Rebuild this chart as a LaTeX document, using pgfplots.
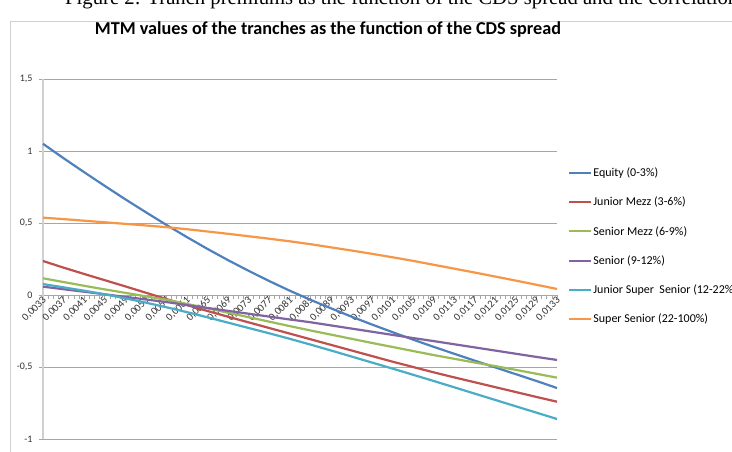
\documentclass[border=0pt]{standalone}
\usepackage{pgfplots}
\usepackage{pgfplotstable}
\pgfplotsset{compat=1.18}
\usepackage{fontspec}
\setmainfont{Carlito}
\newfontfamily\timesfont{Liberation Serif}
\definecolor{cEq}{HTML}{4F81BD}
\definecolor{cJM}{HTML}{C0504D}
\definecolor{cSM}{HTML}{9BBB59}
\definecolor{cS}{HTML}{8064A2}
\definecolor{cJSS}{HTML}{4BACC6}
\definecolor{cSS}{HTML}{F79646}
\definecolor{gridc}{HTML}{A6A6A6}
\definecolor{framec}{HTML}{D0D0D0}
\pgfplotstableread{
idx blue red green purple cyan orange
0 1.050 0.236 0.116 0.058 0.076 0.537
4 0.950 0.190 0.090 0.040 0.053 0.527
8 0.853 0.146 0.064 0.023 0.030 0.516
12 0.758 0.103 0.039 0.005 0.005 0.505
16 0.665 0.060 0.015 -0.013 -0.023 0.494
20 0.575 0.016 -0.009 -0.031 -0.053 0.483
24 0.487 -0.028 -0.033 -0.049 -0.085 0.471
28 0.402 -0.070 -0.062 -0.070 -0.119 0.457
32 0.320 -0.111 -0.092 -0.090 -0.155 0.441
36 0.242 -0.151 -0.123 -0.110 -0.192 0.425
40 0.168 -0.190 -0.154 -0.130 -0.229 0.408
44 0.097 -0.229 -0.185 -0.150 -0.266 0.391
48 0.030 -0.268 -0.216 -0.170 -0.304 0.373
52 -0.033 -0.307 -0.246 -0.189 -0.344 0.353
56 -0.092 -0.346 -0.275 -0.211 -0.385 0.331
60 -0.150 -0.385 -0.304 -0.233 -0.427 0.309
64 -0.205 -0.424 -0.333 -0.255 -0.469 0.286
68 -0.258 -0.463 -0.361 -0.277 -0.511 0.262
72 -0.310 -0.500 -0.389 -0.299 -0.554 0.237
76 -0.360 -0.537 -0.417 -0.320 -0.597 0.210
80 -0.408 -0.572 -0.443 -0.342 -0.641 0.183
84 -0.456 -0.606 -0.469 -0.364 -0.685 0.156
88 -0.503 -0.640 -0.494 -0.386 -0.729 0.128
92 -0.550 -0.674 -0.520 -0.408 -0.773 0.100
96 -0.597 -0.708 -0.547 -0.430 -0.817 0.071
100 -0.646 -0.741 -0.574 -0.451 -0.861 0.042
}\mtm
\begin{document}
\begin{tikzpicture}[x=1pt,y=1pt]
\fill[white] (0,0) rectangle (732,451);
\draw[framec, line width=1pt] (10,-5) -- (10,429) -- (740,429);
\node[anchor=base west, inner sep=0pt, font=\timesfont\fontsize{20.7}{24}\selectfont] at (65,446.5) {Figure 2: Tranch premiums as the function of the CDS spread and the correlation};
\node[font=\bfseries\fontsize{18.2}{21}\selectfont] at (328,421) {MTM values of the tranches as the function of the CDS spread};
\begin{axis}[
  at={(43pt,12pt)}, anchor=south west,
  scale only axis, width=514pt, height=360pt,
  xmin=0, xmax=100, ymin=-1, ymax=1.5,
  axis x line=middle, axis y line=left,
  hide obscured x ticks=false,
  x axis line style={gridc, line width=0.8pt, -},
  y axis line style={framec, line width=1.5pt, -},
  tick align=outside,
  major tick length=4pt, minor tick length=4pt,
  tick style={gridc, line width=0.6pt},
  xtick={0,4,...,100},
  minor xtick={0,1,...,100},
  xticklabels={{0,0033},{0,0037},{0,0041},{0,0045},{0,0049},{0,0053},{0,0057},{0,0061},{0,0065},{0,0069},{0,0073},{0,0077},{0,0081},{0,0085},{0,0089},{0,0093},{0,0097},{0,0101},{0,0105},{0,0109},{0,0113},{0,0117},{0,0121},{0,0125},{0,0129},{0,0133}},
  ytick={-1,-0.5,0,0.5,1,1.5},
  yticklabels={{-1},{-0,5},{0},{0,5},{1},{1,5}},
  ymajorgrids, grid style={gridc, line width=0.8pt},
  x tick label style={font=\fontsize{10.5}{12}\selectfont, rotate=45, anchor=east, inner sep=1pt, xshift=2.5pt, yshift=-1pt, text=black!80},
  y tick label style={font=\fontsize{10}{12}\selectfont, xshift=-3pt, text=black!80},
  legend cell align=left,
  legend style={at={(1.0214,0.757)}, anchor=north west, draw=none, fill=none,
    font=\fontsize{12}{14}\selectfont, row sep=17pt, inner sep=0pt,
    nodes={inner sep=1pt}},
  legend image code/.code={\draw[#1] (0pt,0pt) -- (22pt,0pt);},
  every axis plot/.append style={line width=2.2pt, mark=none},
  clip=false,
]
\addplot[cEq] table[x=idx,y=blue] {\mtm};
\addlegendentry{Equity (0-3\%)}
\addplot[cJM] table[x=idx,y=red] {\mtm};
\addlegendentry{Junior Mezz (3-6\%)}
\addplot[cSM] table[x=idx,y=green] {\mtm};
\addlegendentry{Senior Mezz (6-9\%)}
\addplot[cS] table[x=idx,y=purple] {\mtm};
\addlegendentry{Senior (9-12\%)}
\addplot[cJSS] table[x=idx,y=cyan] {\mtm};
\addlegendentry{Junior Super\ \ Senior (12-22\%)}
\addplot[cSS] table[x=idx,y=orange] {\mtm};
\addlegendentry{Super Senior (22-100\%)}
\end{axis}
\pgfresetboundingbox
\path[use as bounding box] (0,0) rectangle (732,451);
\end{tikzpicture}
\end{document}
